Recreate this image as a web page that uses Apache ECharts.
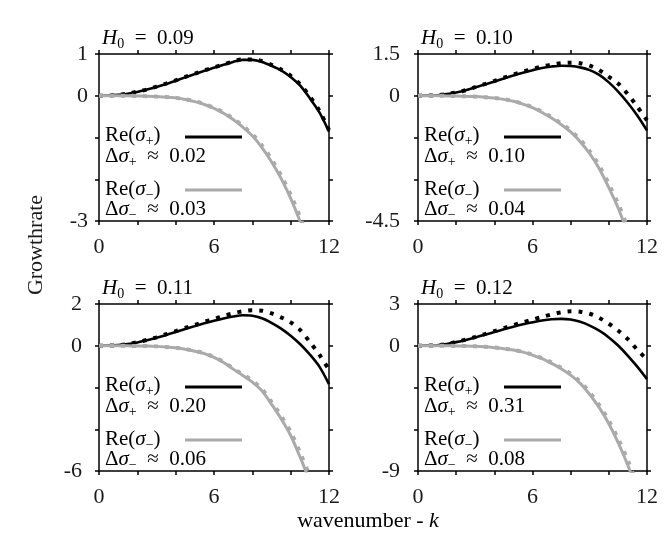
<!DOCTYPE html>
<html><head><meta charset="utf-8">
<script src="https://cdn.jsdelivr.net/npm/echarts@6/dist/echarts.min.js"></script>
<style>html,body{margin:0;padding:0;background:#fff}#c{width:664px;height:554px}</style>
</head><body><div id="c"></div>
<script>
// ---- data ----
const k = [0, 0.5, 1, 1.5, 2, 2.5, 3, 3.5, 4, 4.5, 5, 5.5, 6, 6.5, 7, 7.5, 8, 8.5, 9, 9.5, 10, 10.5, 11, 11.5, 12];
const h0Labels = ['0.09', '0.10', '0.11', '0.12'];
const dPlusLabels = ['0.02', '0.10', '0.20', '0.31'];
const dMinusLabels = ['0.03', '0.04', '0.06', '0.08'];
const yMins = [-3, -4.5, -6, -9];
const yMaxs = [1, 1.5, 2, 3];
const ySteps = [1, 1.5, 2, 3];
const xTickLabels = [0, 6, 12];

const plusSolid1 = [0, .005, .02, .05, .09, .15, .21, .28, .36, .44, .52, .6, .67, .74, .81, .86, .86, .81, .72, .61, .45, .24, -.06, -.4, -.86];
const plusDotted1 = [0, .005, .02, .05, .1, .15, .22, .29, .37, .45, .53, .61, .68, .75, .82, .87, .87, .83, .74, .63, .48, .27, -.02, -.36, -.82];
const minusSolid1 = [0, 0, 0, 0, -.005, -.01, -.02, -.03, -.05, -.09, -.14, -.21, -.3, -.42, -.57, -.75, -.96, -1.24, -1.58, -1.98, -2.46, -3.02, -3.65, -4.35, -5.1];
const minusDotted1 = [0, 0, 0, 0, -.005, -.01, -.02, -.03, -.05, -.085, -.13, -.2, -.29, -.4, -.55, -.72, -.92, -1.19, -1.52, -1.91, -2.37, -2.92, -3.53, -4.2, -4.95];

const plusSolid2 = [0, .005, .02, .06, .12, .2, .3, .4, .51, .62, .73, .83, .92, 1.0, 1.05, 1.08, 1.07, 1.02, .92, .75, .48, .14, -.26, -.72, -1.25];
const plusDotted2 = [0, .005, .02, .06, .12, .2, .31, .42, .53, .65, .76, .87, .96, 1.05, 1.12, 1.17, 1.19, 1.17, 1.08, .92, .68, .43, .05, -.4, -.88];
const minusSolid2 = [0, 0, 0, -.005, -.01, -.02, -.03, -.05, -.08, -.13, -.2, -.3, -.43, -.6, -.8, -1.03, -1.3, -1.65, -2.08, -2.62, -3.3, -4.05, -4.95, -5.9, -7.0];
const minusDotted2 = [0, 0, 0, -.005, -.01, -.02, -.03, -.05, -.08, -.12, -.19, -.29, -.41, -.57, -.77, -.99, -1.25, -1.58, -2.0, -2.52, -3.17, -3.9, -4.75, -5.65, -6.7];

const plusSolid3 = [0, .005, .03, .08, .16, .26, .38, .51, .66, .8, .94, 1.08, 1.2, 1.31, 1.4, 1.46, 1.44, 1.32, 1.1, .82, .48, .07, -.42, -1.0, -1.84];
const plusDotted3 = [0, .005, .03, .08, .17, .28, .4, .55, .7, .85, 1.0, 1.15, 1.28, 1.43, 1.55, 1.65, 1.7, 1.68, 1.55, 1.36, 1.12, .75, .18, -.43, -1.15];
const minusSolid3 = [0, 0, 0, -.005, -.01, -.015, -.03, -.06, -.1, -.17, -.26, -.38, -.56, -.8, -1.12, -1.42, -1.74, -2.16, -2.8, -3.5, -4.3, -5.35, -6.5, -7.7, -9.1];
const minusDotted3 = [0, 0, 0, -.005, -.01, -.015, -.03, -.06, -.1, -.16, -.25, -.36, -.54, -.77, -1.08, -1.37, -1.67, -2.08, -2.69, -3.36, -4.13, -5.14, -6.25, -7.4, -8.75];

const plusSolid4 = [0, .01, .04, .12, .26, .42, .6, .79, .98, 1.18, 1.37, 1.54, 1.68, 1.81, 1.9, 1.93, 1.88, 1.72, 1.45, 1.08, .6, 0, -.72, -1.52, -2.4];
const plusDotted4 = [0, .01, .04, .12, .27, .44, .63, .83, 1.05, 1.27, 1.48, 1.68, 1.88, 2.07, 2.25, 2.4, 2.48, 2.45, 2.3, 2.0, 1.58, 1.08, .47, -.3, -1.0];
const minusSolid4 = [0, 0, 0, -.005, -.01, -.02, -.04, -.08, -.14, -.21, -.31, -.46, -.67, -.93, -1.27, -1.65, -2.11, -2.7, -3.5, -4.45, -5.6, -7.0, -8.6, -10.5, -12.6];
const minusDotted4 = [0, 0, 0, -.005, -.01, -.02, -.04, -.08, -.13, -.2, -.3, -.44, -.64, -.89, -1.21, -1.58, -2.02, -2.59, -3.36, -4.27, -5.38, -6.72, -8.26, -10.1, -12.1];

const panels = [
  [plusSolid1, plusDotted1, minusSolid1, minusDotted1],
  [plusSolid2, plusDotted2, minusSolid2, minusDotted2],
  [plusSolid3, plusDotted3, minusSolid3, minusDotted3],
  [plusSolid4, plusDotted4, minusSolid4, minusDotted4]
];

// ---- layout / style ----
const FONT = 'Liberation Serif';
const TXT = '#1a1a1a';
const GREY = '#aaaaaa';
const boxes = [
  {left: 99, top: 54, width: 230, height: 167, yMargin: 11},
  {left: 418, top: 54, width: 229, height: 167, yMargin: 18},
  {left: 99, top: 304, width: 230, height: 167, yMargin: 17},
  {left: 418, top: 304, width: 229, height: 167, yMargin: 18}
];

const axisLine = {show: true, onZero: false, lineStyle: {color: '#000', width: 1.5}};
const axisTick = {show: true, inside: false, length: 4, lineStyle: {color: '#000', width: 1.5}};

const grid = [], xAxis = [], yAxis = [], series = [], graphic = [];

const richBase = {
  n: {fontFamily: FONT, fontSize: 21, color: TXT, lineHeight: 26, verticalAlign: 'middle'},
  i: {fontFamily: FONT, fontSize: 21, fontStyle: 'italic', color: TXT, lineHeight: 26, verticalAlign: 'middle'},
  s: {fontFamily: FONT, fontSize: 14, color: TXT, lineHeight: 14, verticalAlign: 'bottom'}
};
const SP = '\u2002';

boxes.forEach((b, p) => {
  grid.push({left: b.left, top: b.top, width: b.width, height: b.height, containLabel: false});
  const yLabelVals = [yMins[p], 0, yMaxs[p]];
  xAxis.push({
    gridIndex: p, type: 'value', position: 'bottom', min: 0, max: 12, interval: 2,
    axisLine, axisTick, splitLine: {show: false},
    axisLabel: {
      show: true, margin: 15, color: TXT, fontFamily: FONT, fontSize: 22,
      formatter: v => xTickLabels.indexOf(v) >= 0 ? String(v) : ''
    }
  });
  xAxis.push({
    gridIndex: p, type: 'value', position: 'top', min: 0, max: 12, interval: 2,
    axisLine, axisTick, splitLine: {show: false}, axisLabel: {show: false}
  });
  yAxis.push({
    gridIndex: p, type: 'value', position: 'left', min: yMins[p], max: yMaxs[p], interval: ySteps[p],
    axisLine, axisTick, splitLine: {show: false},
    axisLabel: {
      show: true, margin: b.yMargin, color: TXT, fontFamily: FONT, fontSize: 22,
      formatter: v => yLabelVals.some(t => Math.abs(t - v) < 1e-9) ? String(v) : ''
    }
  });
  yAxis.push({
    gridIndex: p, type: 'value', position: 'right', min: yMins[p], max: yMaxs[p], interval: ySteps[p],
    axisLine, axisTick, splitLine: {show: false}, axisLabel: {show: false}
  });

  const [ps, pd, ms, md] = panels[p];
  const mk = (vals, color, dotted) => ({
    type: 'line', xAxisIndex: p * 2, yAxisIndex: p * 2, smooth: 0.3, symbol: 'none', clip: true,
    data: k.map((x, j) => [x, vals[j]]),
    lineStyle: dotted
      ? {color, width: 4, type: [4, 7], cap: 'butt'}
      : {color, width: color === GREY ? 3 : 2.6, type: 'solid'},
    silent: true, animation: false
  });
  series.push(mk(ps, '#000', false));
  series.push(mk(pd, '#000', true));
  series.push(mk(ms, GREY, false));
  series.push(mk(md, GREY, true));

  graphic.push({
    type: 'text', x: b.left + 3, y: b.top - 16,
    style: {text: '{i|H}{s|0}{n|' + SP + '=' + SP + h0Labels[p] + '}', rich: richBase, align: 'left', verticalAlign: 'middle'}
  });
  graphic.push({
    type: 'text', x: b.left + 6, y: b.top + 81,
    style: {text: '{n|Re(}{i|σ}{s|+}{n|)}', rich: richBase, align: 'left', verticalAlign: 'middle'}
  });
  graphic.push({
    type: 'text', x: b.left + 6, y: b.top + 102,
    style: {text: '{n|Δ}{i|σ}{s|+}{n|' + SP + '≈' + SP + dPlusLabels[p] + '}', rich: richBase, align: 'left', verticalAlign: 'middle'}
  });
  graphic.push({
    type: 'text', x: b.left + 6, y: b.top + 135,
    style: {text: '{n|Re(}{i|σ}{s|−}{n|)}', rich: richBase, align: 'left', verticalAlign: 'middle'}
  });
  graphic.push({
    type: 'text', x: b.left + 6, y: b.top + 155,
    style: {text: '{n|Δ}{i|σ}{s|−}{n|' + SP + '≈' + SP + dMinusLabels[p] + '}', rich: richBase, align: 'left', verticalAlign: 'middle'}
  });
  graphic.push({
    type: 'line', shape: {x1: b.left + 86, y1: b.top + 83, x2: b.left + 143, y2: b.top + 83},
    style: {stroke: '#000', lineWidth: 2.8}
  });
  graphic.push({
    type: 'line', shape: {x1: b.left + 86, y1: b.top + 136, x2: b.left + 143, y2: b.top + 136},
    style: {stroke: GREY, lineWidth: 3}
  });
});

graphic.push({
  type: 'text', x: 36, y: 245, rotation: Math.PI / 2,
  style: {text: 'Growthrate', fontFamily: FONT, fontSize: 22, fill: TXT, align: 'center', verticalAlign: 'middle'}
});
graphic.push({
  type: 'text', x: 368, y: 521,
  style: {text: '{n|wavenumber - }{i|k}', rich: {
    n: {fontFamily: FONT, fontSize: 22, color: TXT, lineHeight: 26, verticalAlign: 'middle'},
    i: {fontFamily: FONT, fontSize: 22, fontStyle: 'italic', color: TXT, lineHeight: 26, verticalAlign: 'middle'}
  }, align: 'center', verticalAlign: 'middle'}
});

const chart = echarts.init(document.getElementById('c'), null, {renderer: 'canvas'});
chart.setOption({
  animation: false,
  backgroundColor: '#fff',
  grid, xAxis, yAxis, series, graphic
});
</script>
</body></html>
